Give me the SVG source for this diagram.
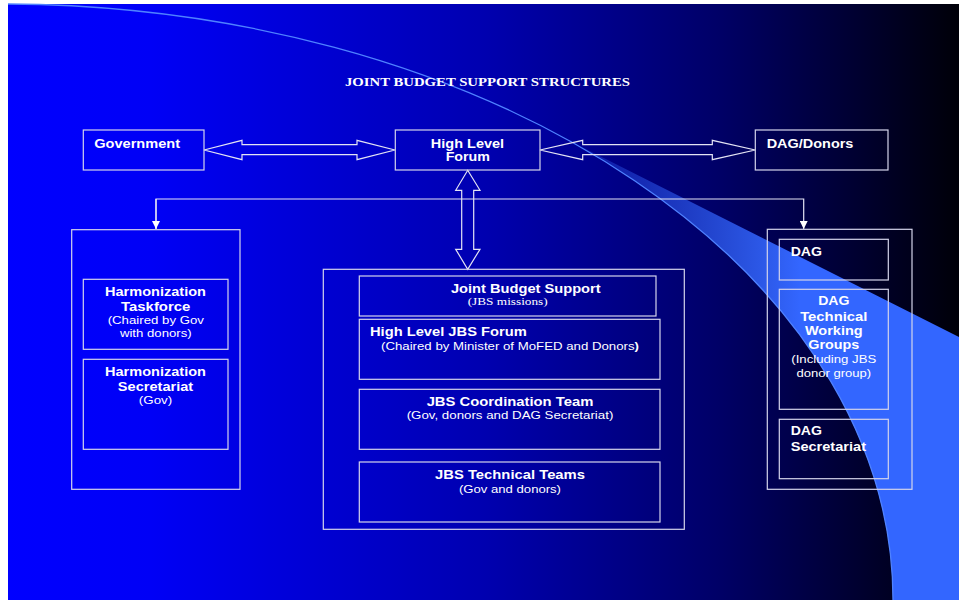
<svg xmlns="http://www.w3.org/2000/svg" width="959" height="600" viewBox="0 0 959 600">
<defs>
<linearGradient id="bg" gradientUnits="userSpaceOnUse" x1="8" y1="0" x2="959" y2="0">
<stop offset="0" stop-color="#0000FF"/>
<stop offset="0.15" stop-color="#0000F6"/>
<stop offset="0.5" stop-color="#0000B0"/>
<stop offset="0.75" stop-color="#000066"/>
<stop offset="1" stop-color="#000008"/>
</linearGradient>
<linearGradient id="wedge" gradientUnits="userSpaceOnUse" x1="565" y1="0" x2="800" y2="0">
<stop offset="0" stop-color="#3366FF" stop-opacity="0.15"/>
<stop offset="1" stop-color="#3366FF" stop-opacity="1"/>
</linearGradient>
<marker id="ah" markerWidth="8" markerHeight="8" refX="8" refY="4" orient="auto" markerUnits="userSpaceOnUse">
<path d="M0,0 L8,4 L0,8 Z" fill="#ffffff"/>
</marker>
<style>
.box{fill:none;stroke:#d4d4ec;stroke-width:1.2}
.conn{fill:none;stroke:#e4e4f4;stroke-width:1.2}
.b{font-family:"Liberation Sans",Arial,sans-serif;font-weight:bold;font-size:12.5px;fill:#ffffff}
.r{font-family:"Liberation Sans",Arial,sans-serif;font-size:11px;fill:#ffffff}
.s{font-family:"Liberation Serif","Times New Roman",serif;font-size:11px;fill:#ffffff}
.ttl{font-family:"Liberation Serif","Times New Roman",serif;font-weight:bold;font-size:12.5px;fill:#ffffff}
.m{text-anchor:middle}
</style>
</defs>
<rect x="0" y="0" width="959" height="600" fill="#ffffff"/>
<rect x="8" y="4" width="951" height="596" fill="url(#bg)"/>
<g id="swoosh">
<path d="M565,138.5 L959,337 L959,600 L893,600 A893 596 0 0 0 565,138.5 Z" fill="url(#wedge)"/>
<path d="M8,4 A893 596 0 0 1 893,600" fill="none" stroke="#4f82ff" stroke-width="1.3"/>
</g>
<text class="ttl m" x="487.5" y="86" textLength="285" lengthAdjust="spacingAndGlyphs">JOINT BUDGET SUPPORT STRUCTURES</text>
<g id="connectors">
<polygon class="conn" points="204,150 242,140.3 242,144.7 357,144.7 357,140.3 395,150 357,159.7 357,154.7 242,154.7 242,159.7"/>
<polygon class="conn" points="540,150 582.7,140.3 582.7,144.7 712.3,144.7 712.3,140.3 755.3,150 712.3,159.7 712.3,154.7 582.7,154.7 582.7,159.7"/>
<polygon class="conn" points="467.7,170.3 480,190.3 473.7,190.3 473.7,249.3 480,249.3 467.7,269.3 455.7,249.3 461.7,249.3 461.7,190.3 455.7,190.3"/>
<path class="conn" d="M156,229 L156,199 L803.7,199 L803.7,229" marker-end="url(#ah)"/>
<path class="conn" d="M156,199 L156,229" marker-end="url(#ah)"/>
</g>
<g id="government">
<rect class="box" x="83.3" y="130" width="120.7" height="40"/>
<text class="b" x="94.3" y="147.5" textLength="85.7" lengthAdjust="spacingAndGlyphs">Government</text>
</g>
<g id="high-level-forum">
<rect class="box" x="395.3" y="130" width="144.7" height="40"/>
<text class="b m" x="467.5" y="147.5" textLength="73.3" lengthAdjust="spacingAndGlyphs">High Level</text>
<text class="b m" x="467.8" y="160.8" textLength="44.3" lengthAdjust="spacingAndGlyphs">Forum</text>
</g>
<g id="dag-donors">
<rect class="box" x="755.3" y="130" width="132.7" height="40"/>
<text class="b" x="766.7" y="147.5" textLength="86.7" lengthAdjust="spacingAndGlyphs">DAG/Donors</text>
</g>
<g id="harmonization-group">
<rect class="box" x="71.7" y="229.7" width="168.3" height="259.6"/>
</g>
<g id="harmonization-taskforce">
<rect class="box" x="83.3" y="279.3" width="144.7" height="70"/>
<text class="b m" x="155.5" y="296" textLength="101" lengthAdjust="spacingAndGlyphs">Harmonization</text>
<text class="b m" x="155.7" y="310.7" textLength="69.3" lengthAdjust="spacingAndGlyphs">Taskforce</text>
<text class="r m" x="155.8" y="324.3" textLength="96.3" lengthAdjust="spacingAndGlyphs">(Chaired by Gov</text>
<text class="r m" x="155.8" y="337.3" textLength="71.7" lengthAdjust="spacingAndGlyphs">with donors)</text>
</g>
<g id="harmonization-secretariat">
<rect class="box" x="83.3" y="359.3" width="144.7" height="90"/>
<text class="b m" x="155.5" y="376" textLength="101" lengthAdjust="spacingAndGlyphs">Harmonization</text>
<text class="b m" x="155.5" y="390.7" textLength="75.3" lengthAdjust="spacingAndGlyphs">Secretariat</text>
<text class="r m" x="155.5" y="404" textLength="33.3" lengthAdjust="spacingAndGlyphs">(Gov)</text>
</g>
<g id="jbs-group">
<rect class="box" x="323.3" y="269.3" width="361" height="260"/>
</g>
<g id="joint-budget-support">
<rect class="box" x="359.3" y="276" width="296.7" height="40"/>
<text class="b m" x="525.8" y="292.7" textLength="149.7" lengthAdjust="spacingAndGlyphs">Joint Budget Support</text>
<text class="s m" x="507.7" y="305.3" textLength="80" lengthAdjust="spacingAndGlyphs">(JBS missions)</text>
</g>
<g id="high-level-jbs-forum">
<rect class="box" x="359.3" y="319.3" width="300.7" height="60"/>
<text class="b" x="370" y="336" textLength="156.7" lengthAdjust="spacingAndGlyphs">High Level JBS Forum</text>
<text class="r" x="381" y="350" textLength="258" lengthAdjust="spacingAndGlyphs">(Chaired by Minister of MoFED and Donors<tspan font-weight="bold">)</tspan></text>
</g>
<g id="jbs-coordination-team">
<rect class="box" x="359.3" y="389.3" width="300.7" height="60"/>
<text class="b m" x="510" y="406" textLength="166.7" lengthAdjust="spacingAndGlyphs">JBS Coordination Team</text>
<text class="r m" x="510" y="419.3" textLength="206.7" lengthAdjust="spacingAndGlyphs">(Gov, donors and DAG Secretariat)</text>
</g>
<g id="jbs-technical-teams">
<rect class="box" x="359.3" y="462" width="300.7" height="60"/>
<text class="b m" x="510" y="478.7" textLength="150" lengthAdjust="spacingAndGlyphs">JBS Technical Teams</text>
<text class="r m" x="510" y="492.7" textLength="102" lengthAdjust="spacingAndGlyphs">(Gov and donors)</text>
</g>
<g id="dag-group">
<rect class="box" x="767.3" y="229.3" width="144.7" height="260"/>
</g>
<g id="dag">
<rect class="box" x="779.3" y="239.3" width="109" height="40.7"/>
<text class="b" x="790.7" y="255.7" textLength="31.3" lengthAdjust="spacingAndGlyphs">DAG</text>
</g>
<g id="dag-technical-working-groups">
<rect class="box" x="779.3" y="289.3" width="109" height="120"/>
<text class="b m" x="833.8" y="305.3" textLength="31.3" lengthAdjust="spacingAndGlyphs">DAG</text>
<text class="b m" x="833.8" y="320.7" textLength="67.3" lengthAdjust="spacingAndGlyphs">Technical</text>
<text class="b m" x="833.8" y="335.3" textLength="57.7" lengthAdjust="spacingAndGlyphs">Working</text>
<text class="b m" x="833.8" y="349.3" textLength="51" lengthAdjust="spacingAndGlyphs">Groups</text>
<text class="r m" x="833.8" y="363.3" textLength="85" lengthAdjust="spacingAndGlyphs">(Including JBS</text>
<text class="r m" x="833.8" y="376.7" textLength="74.7" lengthAdjust="spacingAndGlyphs">donor group)</text>
</g>
<g id="dag-secretariat">
<rect class="box" x="779.3" y="419.3" width="109" height="59.4"/>
<text class="b" x="790.7" y="435" textLength="31.3" lengthAdjust="spacingAndGlyphs">DAG</text>
<text class="b" x="790.7" y="450.7" textLength="75.3" lengthAdjust="spacingAndGlyphs">Secretariat</text>
</g>
</svg>
